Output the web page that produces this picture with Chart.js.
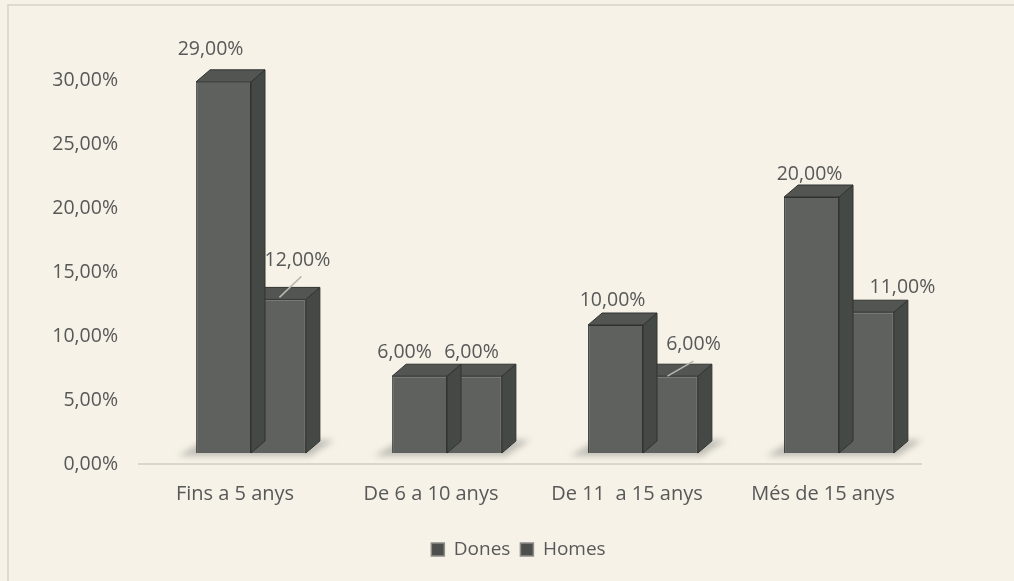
<!DOCTYPE html>
<html>
<head>
<meta charset="utf-8">
<title>Dones i homes per anys</title>
<script src="https://cdn.jsdelivr.net/npm/chart.js@4.4.1/dist/chart.umd.min.js"></script>
<style>
  html, body { margin: 0; padding: 0; background: #f6f2e7; }
  #wrap { width: 1014px; height: 581px; position: relative; }
</style>
</head>
<body>
<div id="wrap"><canvas id="chart"></canvas></div>
<script>
// Data
const categories = ['Fins a 5 anys', 'De 6 a 10 anys', 'De 11  a 15 anys', 'Més de 15 anys'];
const dones = [29, 6, 10, 20];
const homes = [12, 6, 6, 11];
const yTicks = [0, 5, 10, 15, 20, 25, 30];

// Look
const FONT = "'Open Sans', 'Noto Sans', sans-serif";
const TEXT = '#585858';
const DEPTH_X = 14;
const DEPTH_Y = -12;
const FACE = { front: '#5e615d', side: '#454945', top: '#525551', edge: '#313331' };

// value label nudges, [dx, dy] from the top centre of each bar's front face
const donesLabelShift = [[-13, -32], [-15, -24], [-3, -25], [-2, -23]];
const homesLabelShift = [[19, -39], [-3, -24], [23, -32], [36, -25]];
// small leader lines for the labels that sit off their bar
const homesLeaders = [[1, -2, 23, -23], null, [-3, 0, 23, -15], null];

const fmt = v => v.toFixed(2).replace('.', ',') + '%';

function barGeom(bar) {
    const p = bar.getProps(['x', 'y', 'base', 'width'], true);
    return { l: p.x - p.width / 2, r: p.x + p.width / 2, x: p.x, y: p.y, base: p.base };
}

function poly(ctx, pts) {
    ctx.beginPath();
    ctx.moveTo(pts[0][0], pts[0][1]);
    for (let i = 1; i < pts.length; i++) ctx.lineTo(pts[i][0], pts[i][1]);
    ctx.closePath();
}

const bars3d = {
    id: 'bars3d',
    afterLayout(chart) {
        // legend sits centred under the bars rather than the whole canvas
        chart.legend.left += 100;
        chart.legend.top -= 2;
        chart.legend.bottom -= 2;
    },
    beforeDraw(chart) {
        const ctx = chart.ctx;
        ctx.save();
        ctx.fillStyle = '#f6f2e7';
        ctx.fillRect(0, 0, chart.width, chart.height);
        // frame
        ctx.strokeStyle = '#d8d4c8';
        ctx.lineWidth = 1.5;
        ctx.beginPath();
        ctx.moveTo(8, chart.height);
        ctx.lineTo(8, 5);
        ctx.lineTo(chart.width, 5);
        ctx.stroke();
        ctx.restore();
    },
    beforeDatasetsDraw(chart) {
        const ctx = chart.ctx;
        const area = chart.chartArea;
        const zeroY = chart.scales.y.getPixelForValue(0);
        ctx.save();
        // floor edge
        ctx.strokeStyle = '#d0cdc5';
        ctx.lineWidth = 1.5;
        ctx.beginPath();
        ctx.moveTo(area.left - 15, zeroY + 11);
        ctx.lineTo(area.right - 15, zeroY + 11);
        ctx.stroke();
        // soft shadow under each pair of bars
        const m0 = chart.getDatasetMeta(0).data;
        const m1 = chart.getDatasetMeta(1).data;
        ctx.filter = 'blur(3px)';
        ctx.fillStyle = 'rgba(90, 90, 90, 0.35)';
        m0.forEach((b, i) => {
            const a = barGeom(b), c = barGeom(m1[i]);
            poly(ctx, [
                [a.l - 18, a.base + 3], [c.r + 4, a.base + 3],
                [c.r + DEPTH_X + 14, a.base + DEPTH_Y - 1], [a.l + DEPTH_X - 6, a.base + DEPTH_Y]
            ]);
            ctx.fill();
        });
        ctx.restore();
    },
    afterDatasetDraw(chart, args) {
        const ctx = chart.ctx;
        ctx.save();
        ctx.lineWidth = 1;
        ctx.strokeStyle = FACE.edge;
        args.meta.data.forEach(bar => {
            const g = barGeom(bar);
            // right side
            poly(ctx, [[g.r, g.y], [g.r + DEPTH_X, g.y + DEPTH_Y], [g.r + DEPTH_X, g.base + DEPTH_Y], [g.r, g.base]]);
            ctx.fillStyle = FACE.side;
            ctx.fill();
            ctx.stroke();
            // top
            poly(ctx, [[g.l, g.y], [g.l + DEPTH_X, g.y + DEPTH_Y], [g.r + DEPTH_X, g.y + DEPTH_Y], [g.r, g.y]]);
            ctx.fillStyle = FACE.top;
            ctx.fill();
            ctx.stroke();
        });
        ctx.restore();
    },
    afterDatasetsDraw(chart) {
        const ctx = chart.ctx;
        ctx.save();
        ctx.font = '19.5px ' + FONT;
        ctx.fillStyle = TEXT;
        ctx.textAlign = 'center';
        ctx.textBaseline = 'middle';
        const sets = [[dones, donesLabelShift, []], [homes, homesLabelShift, homesLeaders]];
        sets.forEach(([values, shift, leaders], di) => {
            chart.getDatasetMeta(di).data.forEach((bar, i) => {
                const g = barGeom(bar);
                const s = shift[i];
                ctx.fillText(fmt(values[i]), g.x + s[0], g.y + s[1]);
                const ld = leaders[i];
                if (ld) {
                    ctx.strokeStyle = '#b9b7b0';
                    ctx.lineWidth = 1.5;
                    ctx.beginPath();
                    ctx.moveTo(g.x + ld[0], g.y + ld[1]);
                    ctx.lineTo(g.x + ld[2], g.y + ld[3]);
                    ctx.stroke();
                }
            });
        });
        ctx.restore();
    }
};

new Chart(document.getElementById('chart'), {
    type: 'bar',
    data: {
        labels: categories,
        datasets: [
            { label: 'Dones', data: dones, backgroundColor: FACE.front, borderColor: FACE.edge, borderWidth: 1 },
            { label: 'Homes', data: homes, backgroundColor: FACE.front, borderColor: FACE.edge, borderWidth: 1 }
        ]
    },
    options: {
        responsive: true,
        maintainAspectRatio: false,
        animation: false,
        layout: { padding: { top: 69, right: 77, bottom: 10, left: 0 } },
        datasets: { bar: { categoryPercentage: 0.56, barPercentage: 1.0 } },
        scales: {
            x: {
                grid: { display: false, drawTicks: false },
                border: { display: false },
                ticks: { color: TEXT, font: { family: FONT, size: 20 }, padding: 29, labelOffset: -16 },
                afterFit: s => { s.height = 79; }
            },
            y: {
                min: yTicks[0],
                max: yTicks[yTicks.length - 1],
                grid: { display: false, drawTicks: false },
                border: { display: false },
                afterBuildTicks: s => { s.ticks = yTicks.map(v => ({ value: v })); },
                ticks: {
                    color: TEXT,
                    font: { family: FONT, size: 19.5 },
                    padding: 35,
                    labelOffset: 11,
                    callback: v => fmt(v)
                },
                afterFit: s => { s.width = 153; }
            }
        },
        plugins: {
            legend: {
                position: 'bottom',
                labels: {
                    color: TEXT,
                    font: { family: FONT, size: 19 },
                    boxWidth: 13,
                    boxHeight: 13,
                    padding: 10,
                    generateLabels: chart => chart.data.datasets.map((ds, i) => ({
                        text: ds.label,
                        fillStyle: '#4d4f4c',
                        strokeStyle: '#8d8d8a',
                        lineWidth: 1.5,
                        fontColor: TEXT,
                        datasetIndex: i,
                        hidden: false
                    }))
                }
            },
            tooltip: { enabled: false }
        }
    },
    plugins: [bars3d]
});
</script>
</body>
</html>
